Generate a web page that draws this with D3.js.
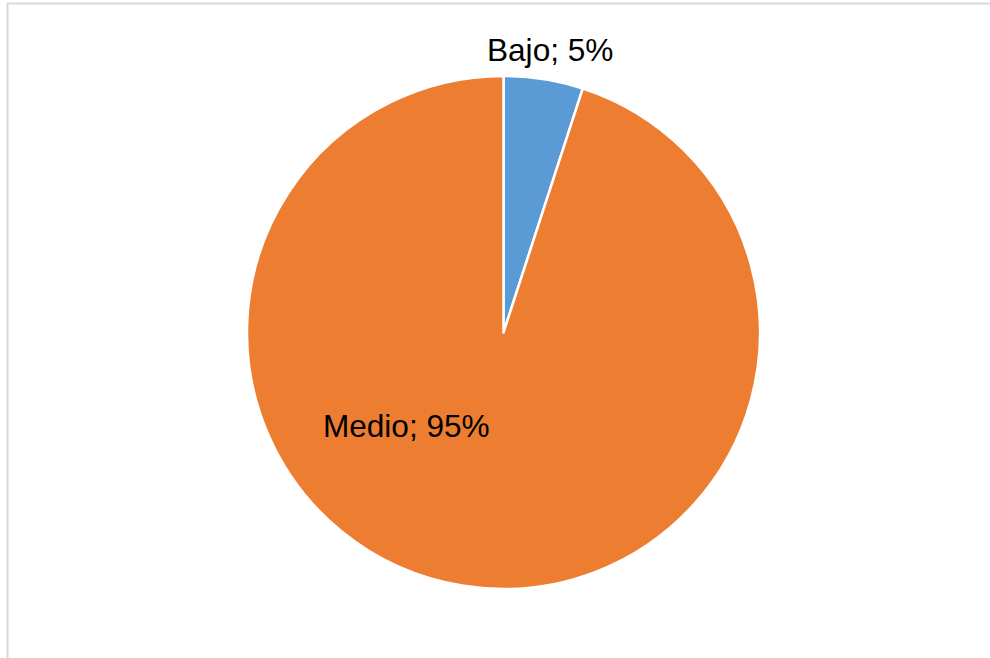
<!DOCTYPE html>
<meta charset="utf-8">
<head>
<style>
body { margin: 0; background: #fff; }
svg { display: block; }
.label {
  font-family: "Liberation Sans", Arial, sans-serif;
  font-size: 31.6px;
  fill: #000;
}
</style>
</head>
<body>
<svg id="chart" width="990" height="658"></svg>
<script src="https://d3js.org/d3.v7.min.js"></script>
<script>
// data
var categories = ["Bajo", "Medio"];
var values = [5, 95];
var colors = ["#5b9bd5", "#ed7d31"];

var svg = d3.select("#chart"),
    width = +svg.attr("width"),
    height = +svg.attr("height");

// chart frame (runs off the right/bottom edge like the original)
svg.append("rect")
    .attr("x", 7.5)
    .attr("y", 3.5)
    .attr("width", 1000)
    .attr("height", 700)
    .attr("fill", "none")
    .attr("stroke", "#d9d9d9")
    .attr("stroke-width", 2);

var cx = 503.5, cy = 332.5, r = 256.5;

var pie = d3.pie().sort(null).value(function(d) { return d.value; });
var arc = d3.arc().innerRadius(0).outerRadius(r);

var data = categories.map(function(c, i) { return {name: c, value: values[i], color: colors[i]}; });
var arcs = pie(data);

var g = svg.append("g").attr("transform", "translate(" + cx + "," + cy + ")");

g.selectAll("path.slice")
  .data(arcs)
  .enter().append("path")
    .attr("class", "slice")
    .attr("d", arc)
    .attr("fill", function(d) { return d.data.color; })
    .attr("stroke", "#fff")
    .attr("stroke-width", 2.5)
    .attr("stroke-linejoin", "round");

// label spots, in units of the radius (outside end for the small slice, inside for the big one)
function labelPos(d, i) {
  if (i === 0) return [0.182 * r, -1.058 * r];
  return [-0.379 * r, 0.409 * r];
}

var total = d3.sum(values);
g.selectAll("text.label")
  .data(arcs)
  .enter().append("text")
    .attr("class", "label")
    .attr("text-anchor", "middle")
    .attr("x", function(d, i) { return labelPos(d, i)[0]; })
    .attr("y", function(d, i) { return labelPos(d, i)[1]; })
    .text(function(d) { return d.data.name + "; " + Math.round(d.data.value / total * 100) + "%"; });
</script>
</body>
